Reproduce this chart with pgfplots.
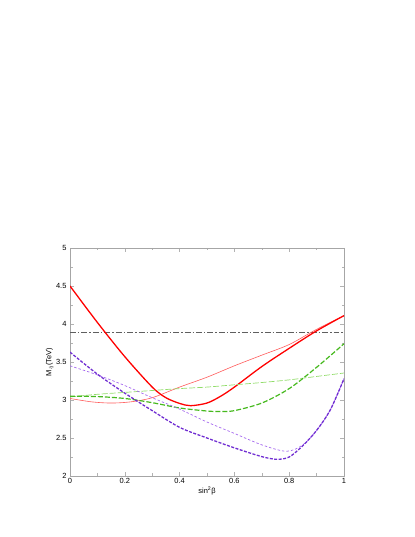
\documentclass[border=0pt]{standalone}
\usepackage{pgfplots}
\pgfplotsset{compat=1.18}
\usepackage{fontspec}
\setmainfont{Liberation Sans}

\definecolor{myred}{RGB}{255,0,0}
\definecolor{lred}{RGB}{255,90,90}
\definecolor{dgreen}{RGB}{70,185,30}
\definecolor{lgreen}{RGB}{145,220,105}
\definecolor{dpurple}{RGB}{112,45,210}
\definecolor{lpurple}{RGB}{165,105,238}
\definecolor{dashgray}{RGB}{95,95,95}

\begin{document}
\begin{tikzpicture}
\path (0,0) rectangle (415bp,537bp);
\begin{axis}[
    at={(70bp,61bp)}, anchor=south west,
    scale only axis,
    width=274bp, height=228bp,
    xmin=0, xmax=1, ymin=2, ymax=5,
    xtick={0,0.2,0.4,0.6,0.8,1},
    ytick={2,2.5,3,3.5,4,4.5,5},
    minor xtick={0.1,0.3,0.5,0.7,0.9},
    minor ytick={2.25,2.75,3.25,3.75,4.25,4.75},
    tick align=inside,
    major tick length=4bp, minor tick length=2.5bp,
    every tick/.style={gray!60, line width=0.6pt},
    axis line style={gray!70, line width=0.8pt},
    tick label style={font=\fontsize{7.5}{8}\selectfont},
    xticklabel style={yshift=1bp},
    label style={font=\fontsize{7.5}{8}\selectfont},
    xlabel={sin\textsuperscript{2}β},
    ylabel={M$_{\tilde q}$(TeV)},
    xlabel style={yshift=4bp},
    ylabel style={yshift=-4bp},
    /pgf/number format/assume math mode=true,
    yticklabel={\pgfmathprintnumber[fixed]{\tick}},
    xticklabel={\pgfmathprintnumber[fixed]{\tick}},
]
% dash-dot reference line
\addplot[dashgray, line width=0.8pt, dash pattern=on 6pt off 2pt on 1.5pt off 2pt]
  coordinates {(0,3.89) (1,3.89)};

% thin red
\addplot[lred, line width=0.6pt, smooth] coordinates {
 (0,3.02) (0.08,2.975) (0.15,2.96) (0.22,2.975) (0.3,3.03) (0.4,3.17)
 (0.5,3.30) (0.6,3.45) (0.7,3.59) (0.8,3.73) (0.9,3.93) (1,4.11)};

% thick red
\addplot[myred, line width=1.3pt, smooth] coordinates {
 (0,4.5) (0.1,4.02) (0.2,3.57) (0.3,3.17) (0.35,3.03) (0.4,2.955) (0.44,2.925)
 (0.5,2.96) (0.55,3.05) (0.6,3.17) (0.7,3.44) (0.8,3.68) (0.9,3.91) (1,4.11)};

% thin light green dashed
\addplot[lgreen, line width=0.7pt, smooth, dash pattern=on 6pt off 2pt] coordinates {
 (0,3.04) (0.1,3.075) (0.2,3.10) (0.3,3.125) (0.4,3.15) (0.5,3.17) (0.6,3.20)
 (0.7,3.23) (0.8,3.265) (0.9,3.31) (1,3.355)};

% thick green dashed
\addplot[dgreen, line width=1.2pt, smooth, dash pattern=on 5pt off 2pt] coordinates {
 (0,3.05) (0.1,3.045) (0.2,3.02) (0.3,2.965) (0.4,2.895) (0.5,2.855) (0.55,2.848)
 (0.6,2.86) (0.7,2.96) (0.8,3.15) (0.9,3.43) (1,3.74)};

% thin purple dashed
\addplot[lpurple, line width=0.7pt, smooth, dash pattern=on 2.5pt off 2pt] coordinates {
 (0,3.45) (0.1,3.33) (0.2,3.19) (0.3,3.03) (0.4,2.88) (0.5,2.71) (0.6,2.56)
 (0.7,2.41) (0.79,2.325) (0.85,2.41) (0.9,2.6) (0.95,2.87) (1,3.28)};

% thick purple dashed
\addplot[dpurple, line width=1.3pt, smooth, dash pattern=on 3pt off 1.5pt] coordinates {
 (0,3.63) (0.1,3.34) (0.2,3.09) (0.3,2.86) (0.4,2.64) (0.5,2.50) (0.6,2.37)
 (0.7,2.255) (0.755,2.22) (0.8,2.25) (0.85,2.40) (0.9,2.6) (0.95,2.87) (1,3.28)};
\end{axis}
\end{tikzpicture}
\end{document}
